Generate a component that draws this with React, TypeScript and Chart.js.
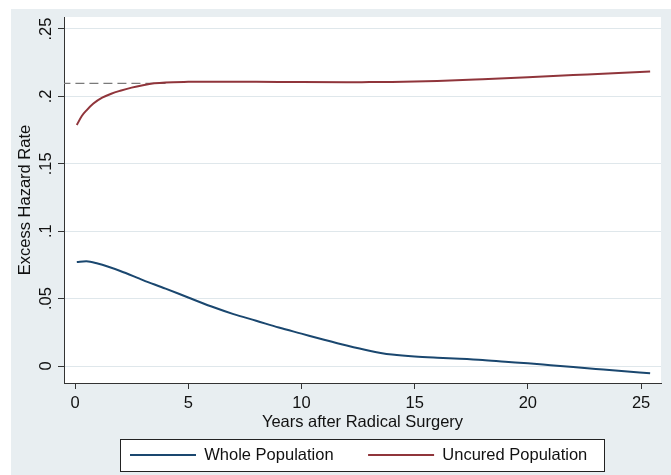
import React, { useEffect, useRef } from "react";
import { Chart, registerables } from "chart.js";

Chart.register(...registerables);

// ---------- data ----------
const seriesNames = ["Whole Population", "Uncured Population"];
const xTitle = "Years after Radical Surgery";
const yTitle = "Excess Hazard Rate";

const xTickValues = [0, 5, 10, 15, 20, 25];
const xTickLabels = ["0", "5", "10", "15", "20", "25"];
const yTickValues = [0, 0.05, 0.1, 0.15, 0.2, 0.25];
const yTickLabels = ["0", ".05", ".1", ".15", ".2", ".25"];

const wholeYears = [0.08, 0.5, 1, 2, 3, 4, 5, 6, 7, 8, 9, 10, 11, 12, 13, 13.5, 14, 15, 16, 17, 18, 19, 20, 21, 22, 23, 24, 25.4];
const wholeRate = [0.0772, 0.0777, 0.076, 0.0705, 0.0637, 0.0574, 0.0508, 0.0443, 0.0385, 0.0336, 0.0285, 0.024, 0.0195, 0.0152, 0.0113, 0.0097, 0.0085, 0.007, 0.0061, 0.0054, 0.0045, 0.0032, 0.002, 0.0006, -0.0008, -0.0022, -0.0036, -0.0053];

const uncuredYears = [0.08, 0.3, 0.5, 0.8, 1.2, 1.6, 2, 2.5, 3, 3.5, 4, 5, 6, 8, 10, 12, 13, 14, 15, 16, 18, 20, 22, 24, 25.4];
const uncuredRate = [0.1788, 0.1855, 0.1895, 0.1945, 0.199, 0.202, 0.2042, 0.2065, 0.2083, 0.2097, 0.2104, 0.2108, 0.2109, 0.2108, 0.2106, 0.2105, 0.2106, 0.2107, 0.211, 0.2115, 0.2128, 0.2142, 0.2158, 0.2174, 0.2185];

const asymptoteYears = [-0.6, 4];
const asymptoteRate = [0.2097, 0.2097];

// ---------- styles ----------
const FONT = "'Liberation Sans', Arial, Helvetica, sans-serif";
const FS = 16.5;
const BG = "#e8eef1";
const GRID = "#dfe7eb";
const AXIS = "#333333";
const TEXT = "#111111";
const BLUE = "#1a476f";
const RED = "#90353b";

const toPoints = (xs: number[], ys: number[]) => xs.map((x, i) => ({ x, y: ys[i] }));

const stagePlugin = {
  id: "stage",
  afterLayout(chart: any) {
    const lg = chart.legend;
    if (!lg) return;
    const h = lg.height;
    lg.top = 412.25;
    lg.bottom = lg.top + h;
    lg.left = 95.5;
    lg.right = lg.left + lg.width;
  },
  beforeDraw(chart: any) {
    const { ctx, chartArea } = chart;
    ctx.save();
    ctx.fillStyle = "#ffffff";
    ctx.fillRect(0, 0, chart.width, chart.height);
    ctx.fillStyle = BG;
    ctx.fillRect(11, 9, chart.width - 11, chart.height - 9);
    ctx.fillStyle = "#ffffff";
    ctx.fillRect(chartArea.left, chartArea.top, chartArea.right - chartArea.left, chartArea.bottom - chartArea.top);
    const hb = chart.legend && chart.legend.legendHitBoxes;
    if (hb && hb.length) {
      const first = hb[0];
      const last = hb[hb.length - 1];
      const l = Math.round(first.left - 10) + 0.5;
      const r = Math.round(last.left + last.width + 17) + 0.5;
      const t = Math.round(first.top - 8) + 0.5;
      const b = Math.round(first.top + first.height + 8) + 0.5;
      ctx.fillStyle = "#ffffff";
      ctx.fillRect(l, t, r - l, b - t);
      ctx.strokeStyle = "#222222";
      ctx.lineWidth = 1;
      ctx.strokeRect(l, t, r - l, b - t);
    }
    ctx.restore();
  },
};

export default function App() {
  const ref = useRef<HTMLCanvasElement | null>(null);

  useEffect(() => {
    document.body.style.margin = "0";
    const canvas = ref.current;
    if (!canvas) return;
    const chart = new Chart(canvas, {
      type: "line",
      data: {
        datasets: [
          {
            label: seriesNames[0],
            data: toPoints(wholeYears, wholeRate),
            borderColor: BLUE,
            backgroundColor: BLUE,
            borderWidth: 2,
            pointRadius: 0,
            cubicInterpolationMode: "monotone",
          },
          {
            label: seriesNames[1],
            data: toPoints(uncuredYears, uncuredRate),
            borderColor: RED,
            backgroundColor: RED,
            borderWidth: 2,
            pointRadius: 0,
            cubicInterpolationMode: "monotone",
          },
          {
            label: "asymptote",
            data: toPoints(asymptoteYears, asymptoteRate),
            borderColor: "#7a7a7a",
            borderWidth: 1.3,
            borderDash: [9, 5],
            pointRadius: 0,
          },
        ],
      },
      options: {
        animation: false,
        responsive: false,
        maintainAspectRatio: false,
        layout: { padding: { top: 17, right: 10, bottom: 0, left: 0 } },
        font: { family: FONT, size: FS },
        plugins: {
          tooltip: { enabled: false },
          title: { display: false },
          legend: {
            display: true,
            position: "bottom",
            align: "start",
            fullSize: false,
            labels: {
              font: { family: FONT, size: FS },
              color: TEXT,
              usePointStyle: true,
              pointStyle: "line",
              pointStyleWidth: 66,
              padding: 34.5,
              filter: (item: any) => item.datasetIndex < 2,
            },
          },
        },
        scales: {
          x: {
            type: "linear",
            min: -0.486,
            max: 25.88,
            afterBuildTicks: (scale: any) => {
              scale.ticks = xTickValues.map((v) => ({ value: v }));
            },
            afterFit: (scale: any) => {
              scale.height = 31;
            },
            ticks: {
              autoSkip: false,
              maxRotation: 0,
              minRotation: 0,
              padding: 4.1,
              color: TEXT,
              font: { family: FONT, size: FS },
              callback: (_v: any, i: number) => xTickLabels[i],
            },
            grid: {
              drawOnChartArea: false,
              drawTicks: true,
              tickLength: 6,
              tickColor: AXIS,
              color: AXIS,
            },
            border: { display: true, color: AXIS, width: 1 },
            title: {
              display: true,
              text: xTitle,
              color: TEXT,
              font: { family: FONT, size: FS },
              padding: { top: 0, bottom: -17.9 },
            },
          },
          y: {
            type: "linear",
            min: -0.01261,
            max: 0.2589,
            afterBuildTicks: (scale: any) => {
              scale.ticks = yTickValues.map((v) => ({ value: v }));
            },
            afterFit: (scale: any) => {
              scale.width = 64;
            },
            ticks: {
              autoSkip: false,
              minRotation: 90,
              maxRotation: 90,
              crossAlign: "center",
              padding: 0.5,
              color: TEXT,
              font: { family: FONT, size: FS },
              callback: (_v: any, i: number) => yTickLabels[i],
            },
            grid: {
              drawOnChartArea: true,
              drawTicks: true,
              tickLength: 6,
              color: GRID,
              tickColor: AXIS,
              lineWidth: 1,
            },
            border: { display: true, color: AXIS, width: 1 },
            title: {
              display: true,
              text: yTitle,
              color: TEXT,
              font: { family: FONT, size: FS },
              padding: { top: 15.6, bottom: 0 },
            },
          },
        },
      },
      plugins: [stagePlugin],
    } as any);
    return () => chart.destroy();
  }, []);

  return (
    <canvas
      ref={ref}
      width={671}
      height={475}
      style={{ display: "block", width: 671, height: 475 }}
    />
  );
}
